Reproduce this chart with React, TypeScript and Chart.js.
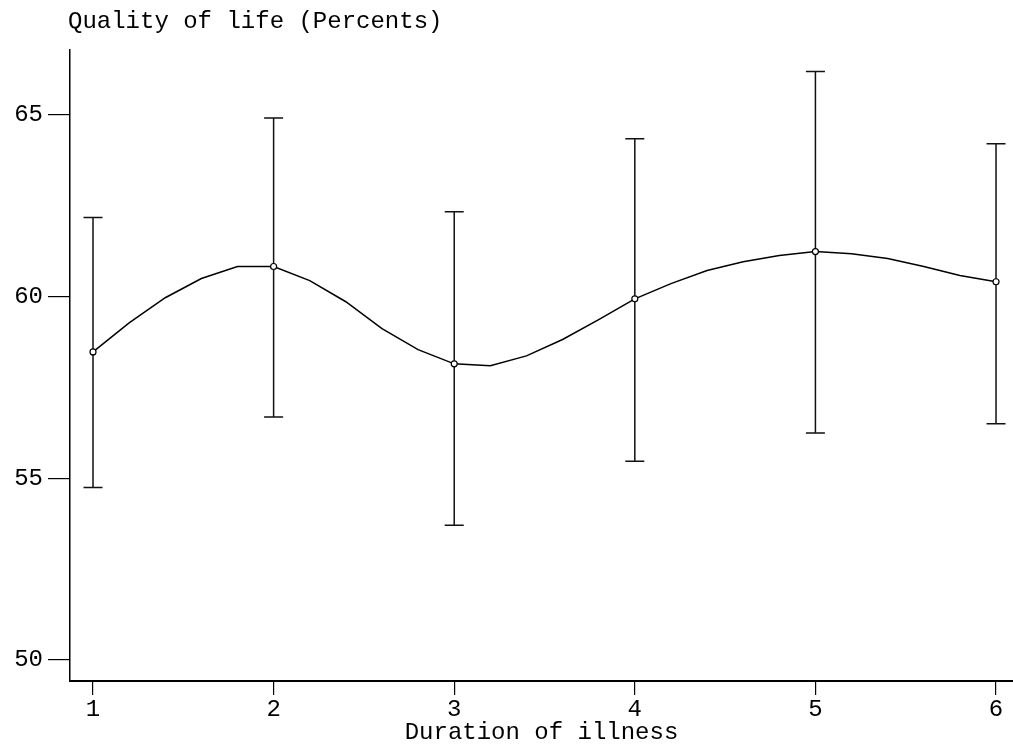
import React, { useEffect, useRef } from 'react';
import { Chart, registerables } from 'chart.js';

Chart.register(...registerables);

const durations = [1, 2, 3, 4, 5, 6];
const means = [58.48, 60.83, 58.15, 59.94, 61.24, 60.41];
const upperCI = [62.18, 64.92, 62.34, 64.35, 66.2, 64.21];
const lowerCI = [54.75, 56.69, 53.71, 55.47, 56.25, 56.5];

const curveX = [1, 1.2, 1.4, 1.6, 1.8, 2, 2.2, 2.4, 2.6, 2.8, 3, 3.2, 3.4, 3.6, 3.8, 4, 4.2, 4.4, 4.6, 4.8, 5, 5.2, 5.4, 5.6, 5.8, 6];
const curveY = [58.48, 59.28, 59.97, 60.5, 60.83, 60.83, 60.44, 59.86, 59.12, 58.54, 58.15, 58.1, 58.37, 58.82, 59.37, 59.94, 60.36, 60.72, 60.96, 61.13, 61.24, 61.18, 61.05, 60.83, 60.58, 60.41];

const xTicks = [1, 2, 3, 4, 5, 6];
const yTicks = [50, 55, 60, 65];

const yTitle = 'Quality of life (Percents)';
const xTitle = 'Duration of illness';

const FONT = '"Liberation Mono", "DejaVu Sans Mono", monospace';

export default function App() {
  const ref = useRef<HTMLCanvasElement | null>(null);

  useEffect(() => {
    if (!ref.current) return;

    const errorBars = {
      id: 'errorBars',
      beforeDatasetsDraw(chart: any) {
        const { ctx, scales } = chart;
        const xs = scales.x;
        const ys = scales.y;
        ctx.save();
        ctx.strokeStyle = '#111';
        ctx.lineWidth = 1.5;
        const half = 9.5;
        durations.forEach((d, i) => {
          const px = xs.getPixelForValue(d);
          const pt = ys.getPixelForValue(upperCI[i]);
          const pb = ys.getPixelForValue(lowerCI[i]);
          ctx.beginPath();
          ctx.moveTo(px, pt);
          ctx.lineTo(px, pb);
          ctx.moveTo(px - half, pt);
          ctx.lineTo(px + half, pt);
          ctx.moveTo(px - half, pb);
          ctx.lineTo(px + half, pb);
          ctx.stroke();
        });
        ctx.restore();
      },
    };

    const topTitle = {
      id: 'topTitle',
      afterDraw(chart: any) {
        const { ctx, chartArea } = chart;
        ctx.save();
        ctx.fillStyle = '#000';
        ctx.font = '24px ' + FONT;
        ctx.textAlign = 'left';
        ctx.textBaseline = 'alphabetic';
        ctx.fillText(yTitle, chartArea.left - 2, 28);
        ctx.restore();
      },
    };

    const chart = new Chart(ref.current, {
      type: 'line',
      data: {
        datasets: [
          {
            label: 'mean',
            data: durations.map((d, i) => ({ x: d, y: means[i] })),
            showLine: false,
            pointRadius: 3,
            pointBorderWidth: 1.2,
            pointBackgroundColor: '#fff',
            pointBorderColor: '#000',
            borderColor: '#000',
          },
          {
            label: 'curve',
            data: curveX.map((x, i) => ({ x, y: curveY[i] })),
            borderColor: '#000',
            borderWidth: 1.5,
            pointRadius: 0,
            tension: 0,
            fill: false,
          },
        ],
      },
      options: {
        animation: false,
        responsive: false,
        maintainAspectRatio: false,
        layout: { autoPadding: false, padding: { top: 50, right: 0, left: 0, bottom: 0 } },
        plugins: {
          legend: { display: false },
          tooltip: { enabled: false },
          title: { display: false },
        },
        scales: {
          x: {
            type: 'linear',
            min: 0.8726,
            max: 6.094,
            afterBuildTicks(scale: any) {
              scale.ticks = xTicks.map((v) => ({ value: v }));
            },
            afterFit(scale: any) {
              scale.height = 68;
              scale.paddingLeft = 0;
              scale.paddingRight = 0;
            },
            grid: {
              display: true,
              drawOnChartArea: false,
              drawTicks: true,
              tickLength: 14,
              color: '#000',
              lineWidth: 1.2,
            },
            border: { display: true, color: '#000', width: 2 },
            ticks: {
              color: '#000',
              font: { family: FONT, size: 24 },
              padding: 0,
              maxRotation: 0,
              callback: (v: any) => String(v),
            },
            title: {
              display: true,
              text: xTitle,
              color: '#000',
              font: { family: FONT, size: 24 },
              padding: { top: 0, bottom: 2 },
            },
          },
          y: {
            type: 'linear',
            min: 49.42,
            max: 66.79,
            afterBuildTicks(scale: any) {
              scale.ticks = yTicks.map((v) => ({ value: v }));
            },
            afterFit(scale: any) {
              scale.width = 70;
              scale.paddingTop = 0;
              scale.paddingBottom = 0;
            },
            grid: {
              display: true,
              drawOnChartArea: false,
              drawTicks: true,
              tickLength: 22,
              color: '#000',
              lineWidth: 1.2,
            },
            border: { display: true, color: '#000', width: 1.5 },
            ticks: {
              color: '#000',
              font: { family: FONT, size: 24 },
              padding: 5,
              callback: (v: any) => String(v),
            },
          },
        },
      },
      plugins: [errorBars, topTitle],
    });

    return () => chart.destroy();
  }, []);

  return (
    <div style={{ position: 'absolute', left: 0, top: 0, width: 1013, height: 749, background: '#fff' }}>
      <canvas ref={ref} width={1013} height={749} style={{ display: 'block' }} />
    </div>
  );
}
